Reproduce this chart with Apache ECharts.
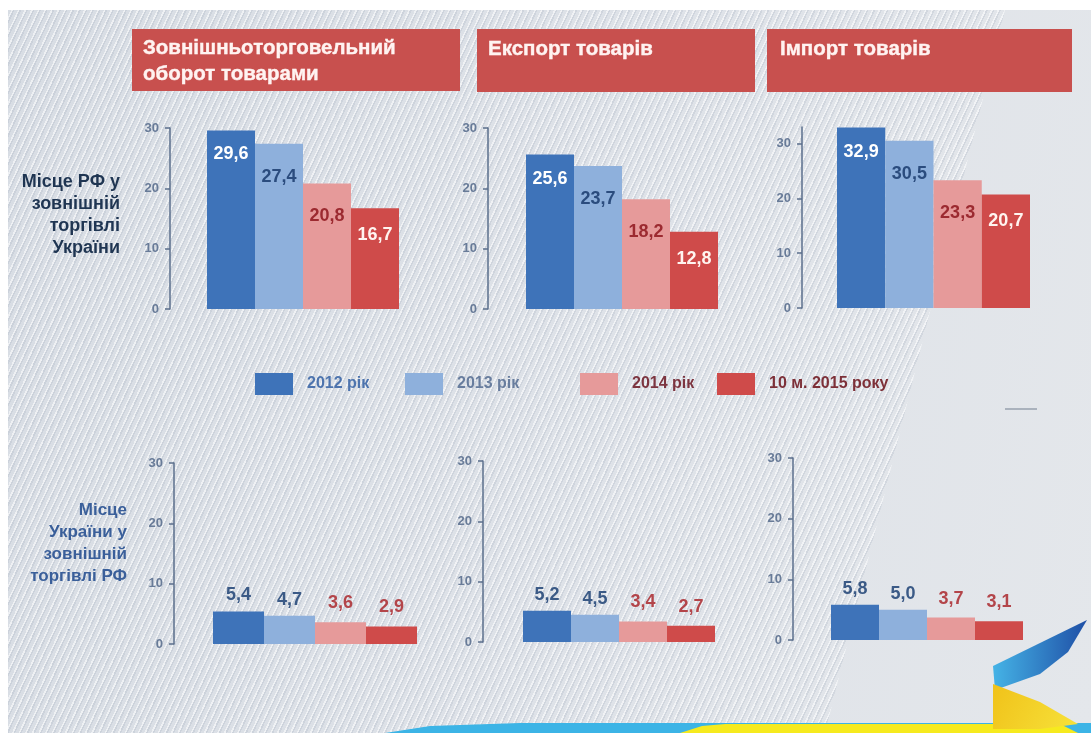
<!DOCTYPE html>
<html>
<head>
<meta charset="utf-8">
<script src="https://cdn.jsdelivr.net/npm/echarts@6/dist/echarts.min.js"></script>
<style>
  html, body { margin: 0; padding: 0; background: #ffffff; }
  #bg {
    position: absolute; left: 8px; top: 10px; width: 1083px; height: 723px;
    background: linear-gradient(100deg, #d8dde4 0%, #dee2e8 55%, #e4e7eb 100%);
  }
  #stripes {
    position: absolute; left: 8px; top: 10px; width: 1083px; height: 723px;
    background: repeating-linear-gradient(115deg,
      rgba(255,255,255,0) 0px, rgba(255,255,255,0) 3px,
      rgba(255,255,255,0.55) 3px, rgba(255,255,255,0.55) 4.5px,
      rgba(150,162,180,0.2) 4.5px, rgba(150,162,180,0.2) 6px);
    clip-path: polygon(0px 0px, 997px 0px, 817px 723px, 0px 723px);
  }
  #chart { position: absolute; left: 0; top: 0; width: 1091px; height: 733px; }
</style>
</head>
<body>
<div id="bg"></div>
<div id="stripes"></div>
<div id="chart"></div>
<script>
// values
const years = ["2012 рік", "2013 рік", "2014 рік", "10 м. 2015 року"];
const rfTurnover = [29.6, 27.4, 20.8, 16.7];
const rfExport = [25.6, 23.7, 18.2, 12.8];
const rfImport = [32.9, 30.5, 23.3, 20.7];
const uaTurnover = [5.4, 4.7, 3.6, 2.9];
const uaExport = [5.2, 4.5, 3.4, 2.7];
const uaImport = [5.8, 5.0, 3.7, 3.1];
const yTicks = [0, 10, 20, 30];

const panels = [rfTurnover, rfExport, rfImport, uaTurnover, uaExport, uaImport];
const panelMax = [30, 30, 33, 30, 30, 30];

// layout of the six small charts
const grids = [
  { left: 207, top: 128, width: 192, height: 181, axisX: 170 },
  { left: 526, top: 128, width: 192, height: 181, axisX: 488 },
  { left: 837, top: 127, width: 193, height: 181, axisX: 802 },
  { left: 213, top: 463, width: 204, height: 181, axisX: 174 },
  { left: 523, top: 461, width: 192, height: 181, axisX: 483 },
  { left: 831, top: 458, width: 192, height: 182, axisX: 793 },
];

const barColors = ["#3e73b9", "#8eb0dc", "#e69a9a", "#cf4b4a"];
const legendText = ["#4d74ae", "#687d9e", "#7d3540", "#7d3038"];
const topLabelColors = ["#ffffff", "#2b4c7e", "#9c2a30", "#fff4f0"];
const topLabelDist = [15, 24, 24, 18];
const bottomLabelColors = ["#3b5a86", "#3b5a86", "#b3454a", "#b3454a"];
const bottomLabelDist = [7, 7, 10, 10];
const legendLeft = [255, 405, 580, 717];

const axisColor = "#5b6f8c";
const font = "'Liberation Sans', Arial, sans-serif";
const fmt = (v) => v.toFixed(1).replace(".", ",");

const chart = echarts.init(document.getElementById("chart"), null, { renderer: "canvas" });

const series = [];
panels.forEach((values, p) => {
  const isTop = p < 3;
  values.forEach((v, y) => {
    series.push({
      type: "bar",
      name: years[y],
      xAxisIndex: p,
      yAxisIndex: p,
      data: [v],
      barGap: "0%",
      barCategoryGap: "0%",
      itemStyle: { color: barColors[y] },
      label: {
        show: true,
        position: isTop ? "insideTop" : "top",
        distance: isTop ? topLabelDist[y] : bottomLabelDist[y],
        formatter: (d) => fmt(d.value),
        color: isTop ? topLabelColors[y] : bottomLabelColors[y],
        fontFamily: font,
        fontWeight: "bold",
        fontSize: 18,
      },
    });
  });
});

const titleBox = (x, y, w, h) => ({
  type: "rect",
  shape: { x, y, width: w, height: h },
  style: { fill: "#c8504e" },
});
const titleText = (x, y, text) => ({
  type: "text",
  x, y,
  style: {
    text, fill: "#fff3f1", stroke: "#fff3f1", lineWidth: 0.4,
    font: "bold 20.5px " + font, verticalAlign: "middle",
  },
});
const rowLabel = (x, y, text, color, size) => ({
  type: "text",
  x, y,
  style: {
    text, fill: color, font: "bold " + size + "px " + font,
    align: "right", lineHeight: 22, verticalAlign: "top",
  },
});

chart.setOption({
  animation: false,
  backgroundColor: "transparent",
  textStyle: { fontFamily: font },
  grid: grids.map((g) => ({ left: g.left, top: g.top, width: g.width, height: g.height })),
  xAxis: grids.map((g, i) => ({ gridIndex: i, type: "category", data: ["v"], show: false })),
  yAxis: grids.map((g, i) => ({
    gridIndex: i,
    type: "value",
    min: 0,
    max: panelMax[i],
    interval: 10,
    offset: g.left - g.axisX,
    axisLine: { show: true, lineStyle: { color: axisColor, width: 1.5 } },
    axisTick: { show: true, length: 5, customValues: yTicks, lineStyle: { color: axisColor, width: 1.5 } },
    axisLabel: {
      customValues: yTicks, margin: 11, color: "#687b98",
      fontSize: 13, fontWeight: "bold", fontFamily: font,
    },
    splitLine: { show: false },
  })),
  legend: years.map((name, i) => ({
    left: legendLeft[i],
    top: 373,
    padding: 0,
    icon: "rect",
    itemWidth: 38,
    itemHeight: 22,
    data: [{ name, textStyle: { color: legendText[i] } }],
    textStyle: { fontSize: 16, fontWeight: "bold", fontFamily: font, padding: [0, 0, 0, 9] },
  })),
  series,
  graphic: [
    titleBox(132, 29, 328, 62),
    titleBox(477, 29, 278, 63),
    titleBox(767, 29, 305, 63),
    titleText(143, 48, "Зовнішньоторговельний"),
    titleText(143, 74, "оборот товарами"),
    titleText(488, 49, "Експорт товарів"),
    titleText(780, 49, "Імпорт товарів"),
    rowLabel(120, 171, "Місце РФ у\nзовнішній\nторгівлі\nУкраїни", "#1f3552", 18),
    rowLabel(127, 499, "Місце\nУкраїни у\nзовнішній\nторгівлі РФ", "#3a5f9a", 17),
    {
      type: "line",
      shape: { x1: 1005, y1: 409, x2: 1037, y2: 409 },
      style: { stroke: "#aab2bd", lineWidth: 2 },
    },
    {
      type: "polygon",
      shape: { points: [[385, 733], [430, 726], [520, 723], [1091, 723], [1091, 733]] },
      style: { fill: "#3cb4e6" },
    },
    {
      type: "polygon",
      shape: { points: [[680, 733], [702, 726], [725, 724], [1060, 724], [1078, 733]] },
      style: { fill: "#f6ea1e" },
    },
    {
      type: "polygon",
      shape: { points: [[1087, 620], [993, 666], [995, 690], [1040, 674], [1068, 652]] },
      style: {
        fill: new echarts.graphic.LinearGradient(0, 0, 1, 0, [
          { offset: 0, color: "#45b3e6" },
          { offset: 1, color: "#1f4fa6" },
        ]),
      },
    },
    {
      type: "polygon",
      shape: { points: [[993, 684], [1040, 702], [1078, 724], [1040, 729], [993, 729]] },
      style: {
        fill: new echarts.graphic.LinearGradient(0, 0, 1, 1, [
          { offset: 0, color: "#f0c21a" },
          { offset: 1, color: "#f7e23a" },
        ]),
      },
    },
  ],
});

window.addEventListener("resize", () => chart.resize());
</script>
</body>
</html>
